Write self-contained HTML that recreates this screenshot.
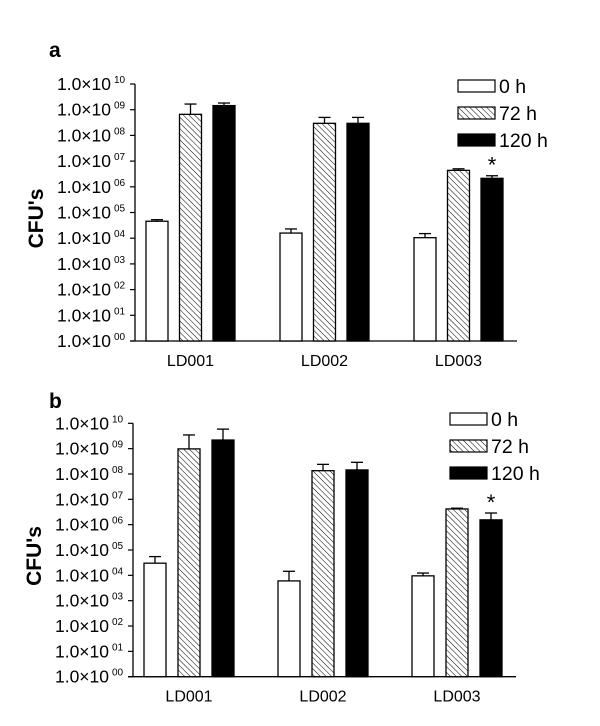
<!DOCTYPE html>
<html><head><meta charset="utf-8"><style>
body{margin:0;background:#fff}
svg{display:block;font-family:"Liberation Sans",Arial,sans-serif}
</style></head><body>
<svg id="chart" width="600" height="726" viewBox="0 0 600 726" xmlns="http://www.w3.org/2000/svg">
<defs>
<pattern id="hatch" patternUnits="userSpaceOnUse" width="4" height="4" patternTransform="rotate(-45)">
<rect width="4" height="4" fill="#fff"/><line x1="0" y1="0" x2="0" y2="4" stroke="#000" stroke-width="1"/>
</pattern>
</defs>
</svg>
<script>
const categories = ["LD001","LD002","LD003"];
const seriesNames = ["0 h","72 h","120 h"];
const tickExps = [0,1,2,3,4,5,6,7,8,9,10];
const tickSup = ["00","01","02","03","04","05","06","07","08","09","10"];
// log10 values [series][category]
const aVals = [[4.66,4.2,4.02],[8.82,8.47,6.64],[9.16,8.47,6.33]];
const aErr  = [[4.72,4.36,4.18],[9.22,8.7,6.7],[9.26,8.7,6.43]];
const bVals = [[4.48,3.78,3.98],[8.99,8.13,6.62],[9.34,8.16,6.19]];
const bErr  = [[4.74,4.16,4.09],[9.54,8.38,6.65],[9.77,8.46,6.46]];
const starCat = 2, starSeries = 2;

const NS="http://www.w3.org/2000/svg";
const svg=document.getElementById('chart');
function el(tag,attrs,parent){const e=document.createElementNS(NS,tag);for(const k in attrs)e.setAttribute(k,attrs[k]);(parent||svg).appendChild(e);return e;}
const fills=["#fff","url(#hatch)","#000"];

function panel(p){
  const g=el('g',{});
  
  
  const y=v=>p.y0-(v-0)*(p.y0-p.y10)/10;
  const gx=(ci,si)=>p.x0+ci*p.groupStep+si*p.barStep;
  const t=el('text',{x:p.lx,y:p.ly,'font-size':21,'font-weight':'bold'},g);t.textContent=p.letter;
  
  const ax=el('line',{x1:p.ax,y1:y(10),x2:p.ax,y2:y(0),stroke:'#000','stroke-width':1.3},g);
  
  const xa=el('line',{x1:p.ax-5,y1:y(0),x2:p.xEnd,y2:y(0),stroke:'#000','stroke-width':1.3},g);
  
  tickExps.forEach((e,i)=>{
    el('line',{x1:p.ax-5,y1:y(e),x2:p.ax,y2:y(e),stroke:'#000','stroke-width':1.2},g);
    const tx=el('text',{x:p.ax-24,y:y(e)+6,'font-size':17.5,'text-anchor':'end'},g);
    tx.textContent='1.0×10';
    
    const s=el('text',{x:p.ax-21,y:y(e)-1,'font-size':10},g);s.textContent=tickSup[i];
  });
  const yt=el('text',{x:0,y:0,'font-size':21,'font-weight':'bold','text-anchor':'middle',transform:`translate(${p.ax-92},${(y(0)+y(10))/2+6}) rotate(-90)`},g);
  yt.textContent="CFU's";
  categories.forEach((c,ci)=>{
    for(let si=0;si<3;si++){
      const v=p.vals[si][ci],er=p.err[si][ci],x=gx(ci,si);
      const ex=x+p.bw/2;
      el('line',{x1:ex,y1:y(er),x2:ex,y2:y(v),stroke:'#000','stroke-width':1.3},g);
      el('line',{x1:ex-6,y1:y(er),x2:ex+6,y2:y(er),stroke:'#000','stroke-width':1.3},g);
      const r=el('rect',{x:x,y:y(v),width:p.bw,height:y(0)-y(v),fill:fills[si],stroke:'#000','stroke-width':1.3},g);
      
      
    }
    const cl=el('text',{x:gx(ci,1)+p.bw/2,y:y(0)+25,'font-size':16,'text-anchor':'middle'},g);
    cl.textContent=c;
  });
  const sx=gx(starCat,starSeries)+p.bw/2;
  const st=el('text',{x:sx,y:y(p.err[starSeries][starCat])-3,'font-size':22,'text-anchor':'middle'},g);
  st.textContent='*';
  seriesNames.forEach((n,si)=>{
    const ly=p.legY+si*27;
    const lr=el('rect',{x:p.legX,y:ly,width:37,height:12,fill:fills[si],stroke:'#000','stroke-width':1.2},g);
    
    const lt=el('text',{x:p.legX+41,y:ly+13,'font-size':19.5},g);lt.textContent=n;
    
  });
}
panel({letter:'a',lx:49,ly:57,ax:135,y0:341,y10:84,xEnd:517,x0:146,groupStep:134,barStep:33.5,bw:22,vals:aVals,err:aErr,legX:458,legY:80});
panel({letter:'b',lx:49,ly:408,ax:133,y0:676.7,y10:423.3,xEnd:516,x0:144,groupStep:134,barStep:34,bw:22,vals:bVals,err:bErr,legX:450,legY:413});
</script>
</body></html>
